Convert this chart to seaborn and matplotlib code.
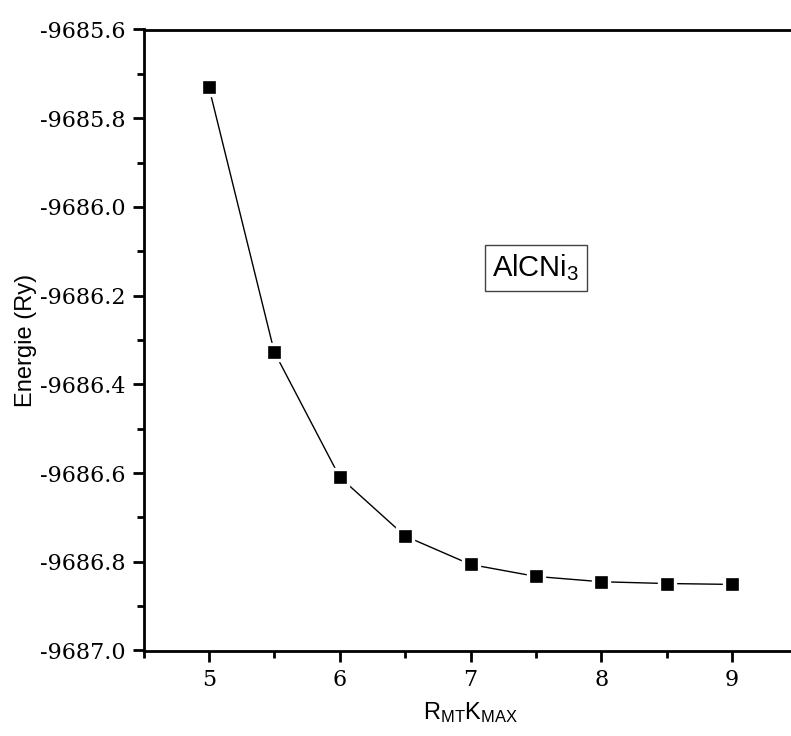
import matplotlib
matplotlib.use("Agg")
import matplotlib.pyplot as plt
import seaborn as sns
import pandas as pd
from matplotlib.ticker import MultipleLocator, FormatStrFormatter

rmt_kmax = [5.0, 5.5, 6.0, 6.5, 7.0, 7.5, 8.0, 8.5, 9.0]
energie = [-9685.730, -9686.327, -9686.609, -9686.742, -9686.806,
           -9686.833, -9686.845, -9686.849, -9686.851]
compound_label = "AlCNi$_3$"

df = pd.DataFrame({"x": rmt_kmax, "y": energie})

sns.set_theme(style="white")
plt.rcParams["axes.unicode_minus"] = False
plt.rcParams["mathtext.fontset"] = "custom"
plt.rcParams["mathtext.rm"] = "Liberation Sans"
plt.rcParams["mathtext.it"] = "Liberation Sans"

fig = plt.figure(figsize=(7.91, 7.36), dpi=100)
ax = fig.add_axes([143.5 / 791, (736 - 650.5) / 736, (797.5 - 143.5) / 791, 621 / 736])

sns.lineplot(data=df, x="x", y="y", ax=ax, color="black", linewidth=1.0,
             marker="s", markersize=12, markerfacecolor="black",
             markeredgecolor="white", markeredgewidth=2.4)

ax.set_xlim(4.5, 9.5)
ax.set_ylim(-9687.0, -9685.6)
ax.xaxis.set_major_locator(MultipleLocator(1))
ax.xaxis.set_minor_locator(MultipleLocator(0.5))
ax.yaxis.set_major_locator(MultipleLocator(0.2))
ax.yaxis.set_minor_locator(MultipleLocator(0.1))
ax.yaxis.set_major_formatter(FormatStrFormatter("%.1f"))
ax.xaxis.set_major_formatter(FormatStrFormatter("%d"))

for s in ["left", "bottom", "top"]:
    ax.spines[s].set_color("black")
    ax.spines[s].set_linewidth(2.0)
ax.spines["right"].set_visible(False)

ax.tick_params(which="major", direction="out", length=8, width=2, color="black",
               bottom=True, left=True, top=False, right=False, pad=5)
ax.tick_params(which="minor", direction="out", length=5, width=2, color="black",
               bottom=True, left=True, top=False, right=False)
for lab in ax.get_xticklabels() + ax.get_yticklabels():
    lab.set_family("DejaVu Serif")
    lab.set_fontsize(16)
    lab.set_color("black")

ax.set_xlabel("R$_{\\mathrm{MT}}$K$_{\\mathrm{MAX}}$", family="Liberation Sans",
              fontsize=17, color="black", labelpad=7)
ax.set_ylabel("Energie (Ry)", family="Liberation Sans", fontsize=17,
              color="black", labelpad=2)

ax.text((536 - 143.5) / (797.5 - 143.5), (650.5 - 268) / 621, compound_label,
        transform=ax.transAxes, ha="center", va="center",
        family="Liberation Sans", fontsize=21, color="black",
        bbox=dict(boxstyle="square,pad=0.25", facecolor="white",
                  edgecolor="#444444", linewidth=1.0))

ax.grid(False)
fig.savefig("out.png", dpi=100)
